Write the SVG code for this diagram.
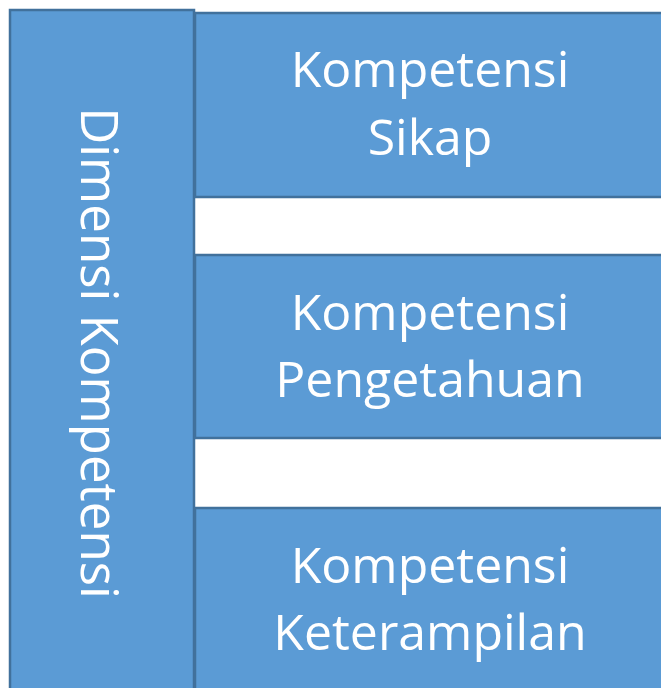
<svg xmlns="http://www.w3.org/2000/svg" width="661" height="688" viewBox="0 0 661 688">
  <style>
    .box { fill: #5B9BD5; stroke: #41719C; stroke-width: 2.5; }
    .lbl { fill: #FFFFFF; font-family: "Open Sans", "Noto Sans", sans-serif; font-size: 50px; text-anchor: middle; }
    .vert { font-size: 51px; }
  </style>
  <rect width="661" height="688" fill="#FFFFFF"/>
  <g id="dimensi">
    <rect class="box" x="10" y="10" width="184" height="690"/>
    <text class="lbl vert" transform="translate(81,353) rotate(90)" x="0" y="0">Dimensi Kompetensi</text>
  </g>
  <g id="sikap">
    <rect class="box" x="195" y="13" width="475" height="184"/>
    <text class="lbl" x="430" y="87">Kompetensi</text>
    <text class="lbl" x="430" y="155">Sikap</text>
  </g>
  <g id="pengetahuan">
    <rect class="box" x="195" y="255" width="475" height="183"/>
    <text class="lbl" x="430" y="330">Kompetensi</text>
    <text class="lbl" x="430" y="397">Pengetahuan</text>
  </g>
  <g id="keterampilan">
    <rect class="box" x="195" y="508" width="475" height="200"/>
    <text class="lbl" x="430" y="583">Kompetensi</text>
    <text class="lbl" x="430" y="650">Keterampilan</text>
  </g>
  <g id="connectors"/>
</svg>
